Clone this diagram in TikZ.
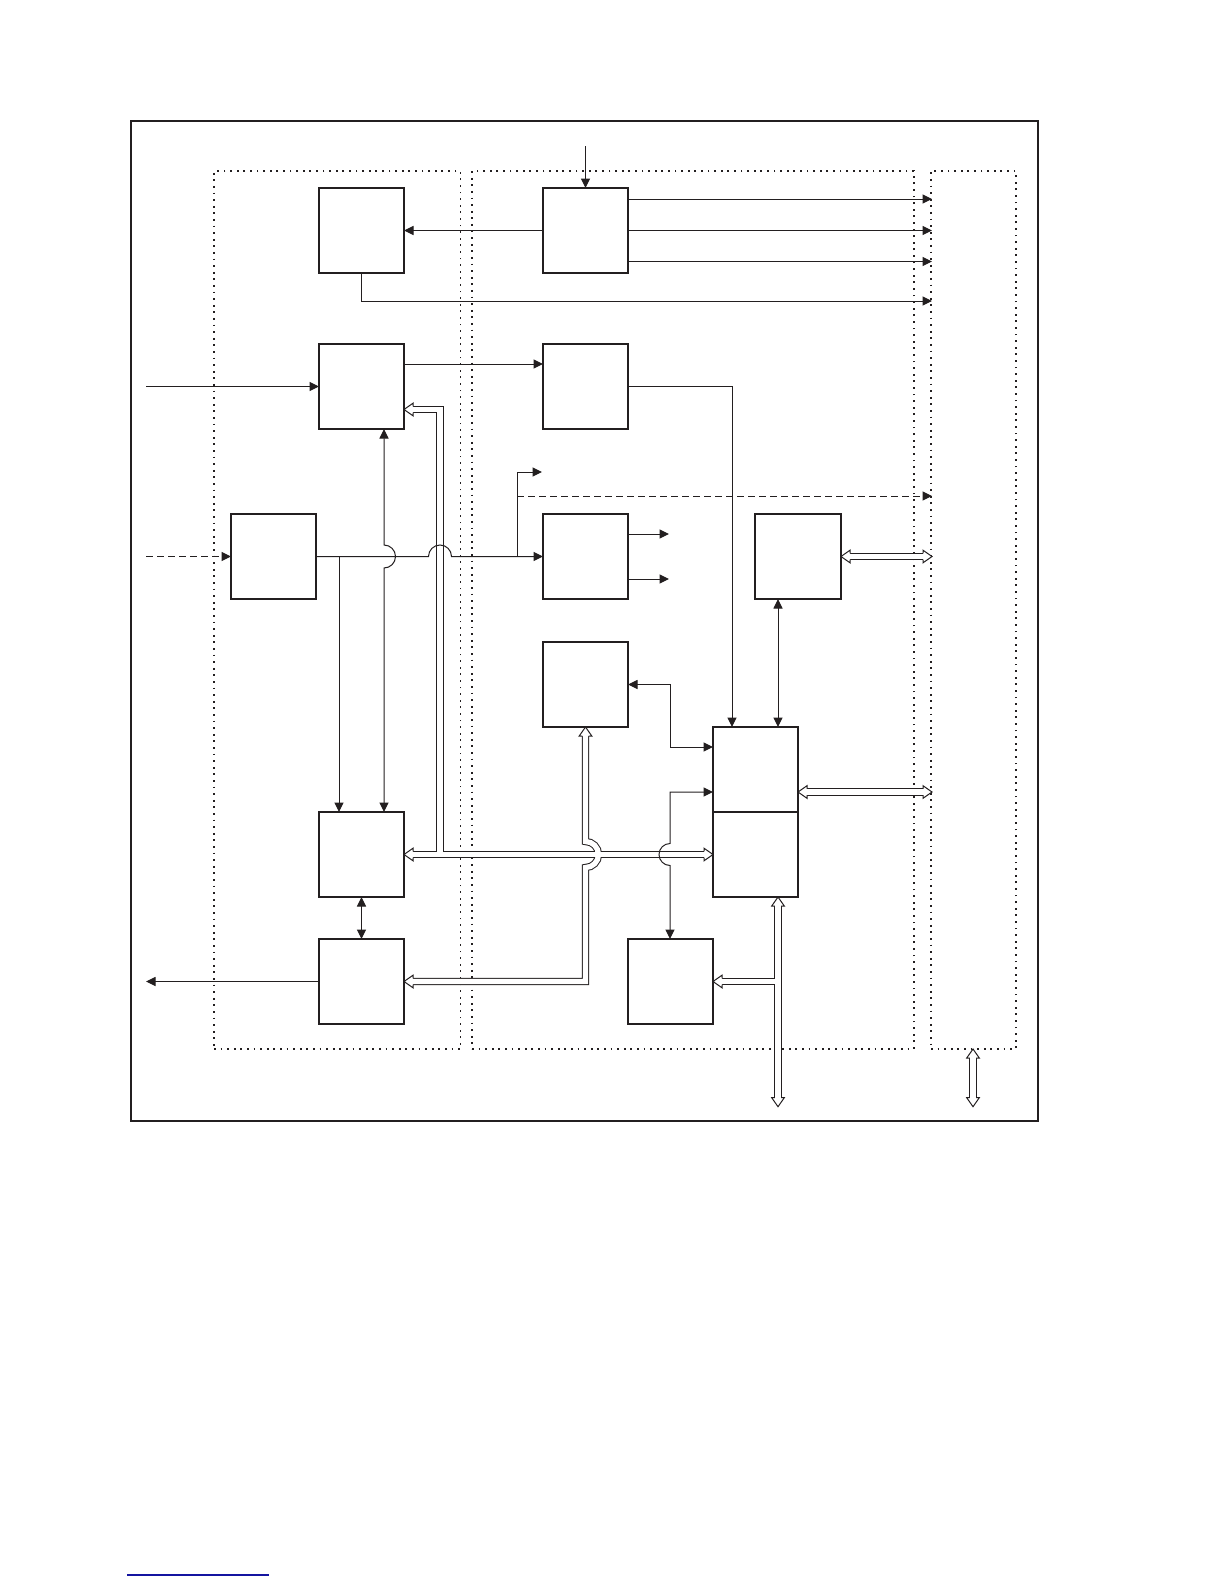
\documentclass[tikz,border=0pt]{standalone}
\usetikzlibrary{arrows.meta}
\definecolor{lc}{RGB}{35,31,32}
\definecolor{linkblue}{RGB}{20,20,160}
\begin{document}
\begin{tikzpicture}[x=1pt,y=-1pt,
  box/.style={draw=lc,line width=2pt,minimum width=85pt,minimum height=85pt,inner sep=0pt,outer sep=0pt,anchor=north west},
  region/.style={draw=lc,line width=1.8pt,dash pattern=on 1.8pt off 4.8pt,inner sep=0pt,outer sep=0pt,anchor=north west},
  arr/.style={draw=lc,line width=1pt,-{Triangle[length=9.5pt,width=9pt]}},
  darr/.style={draw=lc,line width=1pt,{Triangle[length=9.5pt,width=9pt]}-{Triangle[length=9.5pt,width=9pt]}},
  dashline/.style={dash pattern=on 7pt off 4pt},
  busout/.style={draw=lc,line width=7.3pt,line join=miter},
  busin/.style={draw=white,line width=5.3pt,line join=miter},
  bushead/.pic={\filldraw[fill=white,draw=lc,line width=1pt,line join=miter] (-9,-3.15) -- (-9,-6.3) -- (0,0) -- (-9,6.3) -- (-9,3.15);}
]
\useasboundingbox (0,0) rectangle (1224,1584);

% frame and regions
\node[draw=lc,line width=1.3pt,inner sep=0pt,outer sep=0pt,anchor=north west,minimum width=907pt,minimum height=1000pt] (frame) at (131,121) {};
\node[region,minimum width=246.5pt,minimum height=878pt] (R1) at (214,171) {};
\node[region,minimum width=442pt,minimum height=878pt] (R2) at (472,171) {};
\node[region,minimum width=85pt,minimum height=878pt] (R3) at (931,171) {};

% boxes
\node[box] (A) at (319,188) {};
\node[box] (B) at (543,188) {};
\node[box] (C) at (319,344) {};
\node[box] (D) at (543,344) {};
\node[box] (L) at (231,514) {};
\node[box] (E) at (543,514) {};
\node[box,line width=2.6pt,minimum width=86pt] (F) at (755,514) {};
\node[box] (G) at (543,642) {};
\node[box] (H1) at (713,727) {};
\node[box] (H2) at (713,812) {};
\node[box] (J) at (319,812) {};
\node[box] (K) at (319,939) {};
\node[box] (I) at (628,939) {};

% named points
\coordinate (inB) at (585.5,146);
\coordinate (o1) at (932,199);
\coordinate (o2) at (932,230.5);
\coordinate (o3) at (932,261.5);
\coordinate (o4) at (932,301);
\coordinate (inC) at (146,386.5);
\coordinate (cd) at (0,364);
\coordinate (d1) at (732,386.5);
\coordinate (inL) at (146,556.5);
\coordinate (jl) at (339,556.5);
\coordinate (tap) at (517,556.5);
\coordinate (eo) at (542,472);
\coordinate (dsh) at (932,496);
\coordinate (cj) at (384,0);
\coordinate (e1) at (669,534);
\coordinate (e2) at (669,579);
\coordinate (fh) at (778,0);
\coordinate (gh) at (670,747);
\coordinate (hi) at (670,792);
\coordinate (outK) at (146,981.5);

% buses (two passes so that junctions merge)
\def\BusPaths#1{%
  \draw[#1] (412,409.5) -- (440,409.5) -- (440,854.5);
  \draw[#1] (412,854.5) -- (705,854.5);
  \draw[#1] (585.5,735) -- (585.5,841.5) .. controls (592.68,841.5) and (598.5,847.32) .. (598.5,854.5) .. controls (598.5,861.68) and (592.68,867.5) .. (585.5,867.5) -- (585.5,981.5) -- (412,981.5);
  \draw[#1] (778,905) -- (778,1098.7);
  \draw[#1] (778,981.5) -- (721,981.5);
  \draw[#1] (849,556.5) -- (924,556.5);
  \draw[#1] (806,792) -- (924,792);
  \draw[#1] (973,1057) -- (973,1098.7);
}
\BusPaths{busout}
\BusPaths{busin}
\path (404,409.5) pic[rotate=180] {bushead};
\path (J.east) pic[rotate=180] {bushead};
\path (H2.west) pic {bushead};
\path (G.south) pic[rotate=90] {bushead};
\path (K.east) pic[rotate=180] {bushead};
\path (I.east) pic[rotate=180] {bushead};
\path (H2.south -| fh) pic[rotate=90] {bushead};
\path (778,1106.7) pic[rotate=-90] {bushead};
\path (F.east) pic[rotate=180] {bushead};
\path (932,556.5) pic {bushead};
\path (798,792) pic[rotate=180] {bushead};
\path (932,792) pic {bushead};
\path (973,1049) pic[rotate=90] {bushead};
\path (973,1106.7) pic[rotate=-90] {bushead};

% thin connectors
\draw[arr] (inB) -- (B.north);
\draw[arr] (B.west) -- (A.east);
\draw[arr] (B.east |- o1) -- (o1);
\draw[arr] (B.east) -- (o2);
\draw[arr] (B.east |- o3) -- (o3);
\draw[arr] (A.south) -- (A.south |- o4) -- (o4);
\draw[arr] (inC) -- (C.west);
\draw[arr] (C.east |- cd) -- (D.west |- cd);
\draw[arr] (D.east) -- (d1) -- (d1 |- H1.north);
\draw[arr,dashline] (inL) -- (L.west);
\draw[arr] (L.east) -- (428.5,556.5) .. controls (428.5,550.15) and (433.65,545) .. (440,545) .. controls (446.35,545) and (451.5,550.15) .. (451.5,556.5) -- (E.west);
\draw[arr] (jl) -- (jl |- J.north);
\draw[arr] (tap) -- (tap |- eo) -- (eo);
\draw[arr,dashline] (tap |- dsh) -- (dsh);
\draw[darr] (C.south -| cj) -- (384,545) .. controls (390.35,545) and (395.5,550.15) .. (395.5,556.5) .. controls (395.5,562.85) and (390.35,568) .. (384,568) -- (J.north -| cj);
\draw[arr] (E.east |- e1) -- (e1);
\draw[arr] (E.east |- e2) -- (e2);
\draw[darr] (F.south -| fh) -- (H1.north -| fh);
\draw[darr] (G.east) -- (G.east -| gh) -- (gh) -- (H1.west |- gh);
\draw[darr] (H1.west |- hi) -- (hi) -- (670,843.5) .. controls (663.92,843.5) and (659,848.42) .. (659,854.5) .. controls (659,860.58) and (663.92,865.5) .. (670,865.5) -- (hi |- I.north);
\draw[darr] (J.south) -- (K.north);
\draw[arr] (K.west) -- (outK);

% link underline at page foot
\coordinate (ul1) at (127,1575);
\coordinate (ul2) at (269,1575);
\draw[linkblue,line width=1.3pt] (ul1) -- (ul2);
\end{tikzpicture}
\end{document}
